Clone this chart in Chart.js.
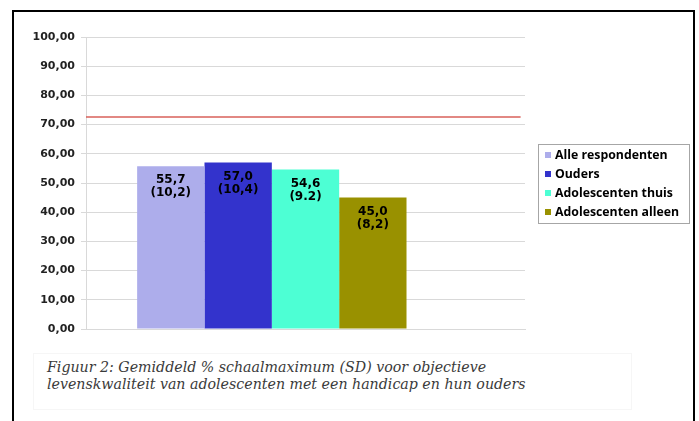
<!DOCTYPE html>
<html>
<head>
    <title>Figuur 2</title>
    <script src="https://cdn.jsdelivr.net/npm/chart.js"></script>
    <style>
        body { margin: 0; background: #fff; }
        #frame { position: absolute; left: 12px; top: 10px; width: 679px; height: 430px; border: 2px solid #000; }
        #chart { position: absolute; left: 0; top: 0; }
        #caption { position: absolute; left: 33px; top: 353px; width: 584px; height: 50px;
            border: 1px solid #f6f6f6; padding: 5px 0 0 13px; line-height: 16.5px;
            font-family: "DejaVu Serif", serif; font-style: italic; font-size: 14.2px; color: #3a3a3a; white-space: nowrap; }
    </style>
</head>
<body>
    <div id="frame"></div>
    <canvas id="chart" width="699" height="345"></canvas>
    <div id="caption">Figuur 2: Gemiddeld % schaalmaximum (SD) voor objectieve<br>levenskwaliteit van adolescenten met een handicap en hun ouders</div>
    <script>
        // data
        const categories = [''];
        const groupLabels = ['Alle respondenten', 'Ouders', 'Adolescenten thuis', 'Adolescenten alleen'];
        const means = [55.7, 57.0, 54.6, 45.0];
        const sdLabels = ['(10,2)', '(10,4)', '(9.2)', '(8,2)'];
        const normLine = 72.6;
        const barColors = ['#adadeb', '#3333cc', '#4dffd4', '#999100'];

        const fmt = v => v.toFixed(1).replace('.', ',');

        // values written inside the bars
        const barLabels = {
            id: 'barLabels',
            afterDatasetsDraw(chart) {
                const c = chart.ctx;
                c.save();
                c.font = 'bold 12px "DejaVu Sans"';
                c.fillStyle = '#000';
                c.textAlign = 'center';
                c.textBaseline = 'middle';
                groupLabels.forEach((g, i) => {
                    const bar = chart.getDatasetMeta(i).data[0];
                    c.fillText(fmt(means[i]), bar.x, bar.y + 14);
                    c.fillText(sdLabels[i], bar.x, bar.y + 27);
                });
                c.restore();
            }
        };

        // red reference line (a line dataset on a 2nd x axis messes up bar widths)
        const refLine = {
            id: 'refLine',
            afterDatasetsDraw(chart) {
                const c = chart.ctx;
                const a = chart.chartArea;
                const y = chart.scales.y.getPixelForValue(normLine);
                c.save();
                c.strokeStyle = '#d9605a';
                c.lineWidth = 1.5;
                c.beginPath();
                c.moveTo(a.left, y);
                c.lineTo(a.left + a.width * 0.99, y);
                c.stroke();
                c.restore();
            }
        };

        // boxed legend like the excel one
        const boxLegend = {
            id: 'boxLegend',
            afterDraw(chart) {
                const c = chart.ctx;
                const x = 538, y = 144, w = 151, h = 79;
                c.save();
                c.strokeStyle = '#a6a6a6';
                c.lineWidth = 1;
                c.strokeRect(x + 0.5, y + 0.5, w, h);
                c.font = 'bold 12.3px "Open Sans"';
                c.textBaseline = 'middle';
                groupLabels.forEach((g, i) => {
                    const cy = y + 11 + i * 19;
                    c.fillStyle = chart.data.datasets[i].backgroundColor;
                    c.fillRect(x + 7, cy - 3, 6, 6);
                    c.fillStyle = '#000';
                    c.fillText(g, x + 17, cy);
                });
                c.restore();
            }
        };

        const datasets = groupLabels.map((label, i) => ({
            label: label,
            data: [means[i]],
            backgroundColor: barColors[i]
        }));
        // empty fifth slot, the group is not centred in the original
        datasets.push({ label: '', data: [0], backgroundColor: 'rgba(0,0,0,0)' });

        new Chart(document.getElementById('chart').getContext('2d'), {
            type: 'bar',
            data: { labels: categories, datasets: datasets },
            options: {
                responsive: false,
                animation: false,
                devicePixelRatio: 1,
                barPercentage: 1,
                categoryPercentage: 0.767,
                layout: { padding: { left: 0, top: 37, right: 174, bottom: 16 } },
                plugins: { legend: { display: false }, tooltip: { enabled: false } },
                scales: {
                    x: {
                        ticks: { display: false },
                        grid: { display: false },
                        border: { color: '#d9d9d9' },
                        afterFit: s => { s.height = 0; }
                    },
                    y: {
                        min: 0,
                        max: 100,
                        ticks: {
                            stepSize: 10,
                            padding: 6,
                            color: '#222',
                            font: { family: 'DejaVu Sans', size: 11, weight: 'bold' },
                            callback: v => v.toFixed(2).replace('.', ',')
                        },
                        grid: { color: '#d9d9d9', tickLength: 5 },
                        border: { color: '#d9d9d9' },
                        afterFit: s => { s.width = 86; }
                    }
                }
            },
            plugins: [refLine, barLabels, boxLegend]
        });
    </script>
</body>
</html>
